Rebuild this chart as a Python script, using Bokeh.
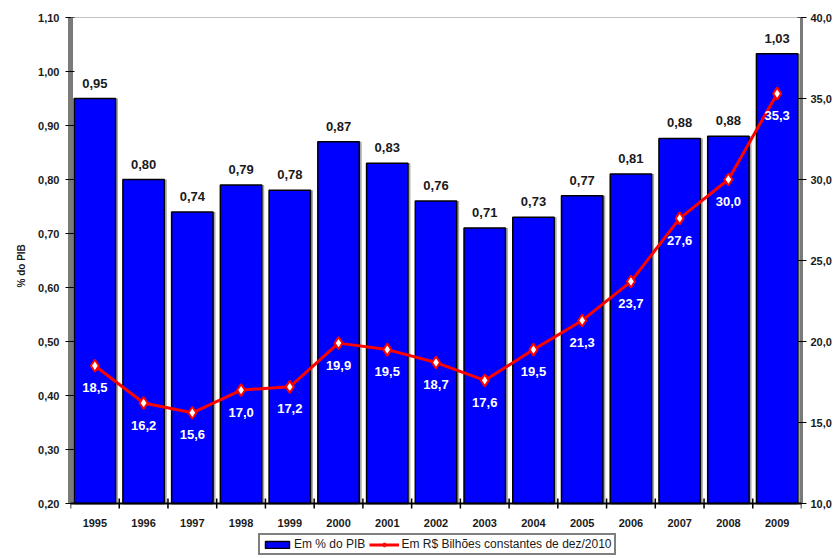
import math
from bokeh.plotting import figure
from bokeh.models import (Range1d, LinearAxis, FixedTicker, CustomJSTickFormatter,
                          ColumnDataSource, Legend, LegendItem, FactorRange, Span, Title)
from bokeh.transform import dodge
from bokeh.core.properties import value
from bokeh.embed import file_html
from bokeh.resources import INLINE

years = ["1995", "1996", "1997", "1998", "1999", "2000", "2001", "2002",
         "2003", "2004", "2005", "2006", "2007", "2008", "2009"]
pib_pct = [0.95, 0.80, 0.74, 0.79, 0.78, 0.87, 0.83, 0.76, 0.71, 0.73, 0.77, 0.81, 0.876, 0.88, 1.033]
pib_lbl = ["0,95", "0,80", "0,74", "0,79", "0,78", "0,87", "0,83", "0,76",
           "0,71", "0,73", "0,77", "0,81", "0,88", "0,88", "1,03"]
rs_bi = [18.5, 16.2, 15.6, 17.0, 17.2, 19.9, 19.5, 18.7, 17.6, 19.5, 21.3, 23.7, 27.6, 30.0, 35.3]
rs_lbl = ["18,5", "16,2", "15,6", "17,0", "17,2", "19,9", "19,5", "18,7",
          "17,6", "19,5", "21,3", "23,7", "27,6", "30,0", "35,3"]
left_ticks = [0.2, 0.3, 0.4, 0.5, 0.6, 0.7, 0.8, 0.9, 1.0, 1.1]
right_ticks = [10, 15, 20, 25, 30, 35, 40]
left_min, left_max = 0.2, 1.1
right_min, right_max = 10, 40

FONT = "Liberation Sans"

# layout (pixels): frame spans from the top of the axes down to the bottom of the page,
# leaving room under the value axis for the category labels and the legend
W, H = 840, 556
TOP, LEFT, RIGHT = 17, 70, 39
AXIS_PX = 486            # pixel height of the value axes
EXTRA_PX = H - TOP - AXIS_PX
y_lo = left_min - EXTRA_PX * (left_max - left_min) / AXIS_PX
r_lo = right_min - EXTRA_PX * (right_max - right_min) / AXIS_PX

src = ColumnDataSource(dict(year=years, pib=pib_pct, pib_lbl=pib_lbl, rs=rs_bi, rs_lbl=rs_lbl))

p = figure(width=W, height=H, x_range=FactorRange(*years), y_range=Range1d(y_lo, left_max),
           output_backend="svg", toolbar_location=None, x_axis_location=None,
           min_border_left=LEFT, min_border_right=RIGHT, min_border_top=TOP, min_border_bottom=0)
p.extra_y_ranges = {"rs": Range1d(r_lo, right_max)}
p.xgrid.visible = False
p.ygrid.visible = False
p.outline_line_color = None
p.background_fill_color = "white"

# top border of the plot area
p.add_layout(Span(location=left_max, dimension="width", line_color="#888888", line_width=1))

# bar shadows
p.vbar(x=dodge("year", 0.05, range=p.x_range), top="pib", bottom=left_min, width=0.85,
       source=src, fill_color="#a8a8a8", line_color=None)
bars = p.vbar(x="year", top="pib", bottom=left_min, width=0.85, source=src,
              fill_color="#0000FF", line_color="black", line_width=1.5)

# category axis line and ticks at category boundaries
p.add_layout(Span(location=left_min, dimension="width", line_color="black", line_width=2))
bounds_x = [(y, -0.5) for y in years] + [(years[-1], 0.5)]
p.scatter(x=bounds_x, y=[left_min] * len(bounds_x), marker="dash", angle=math.pi / 2, size=10,
          line_color="black", line_width=1.5)

line = p.line(x="year", y="rs", source=src, y_range_name="rs", line_color="#FF0000", line_width=3)
pts = p.scatter(x="year", y="rs", source=src, y_range_name="rs", marker="diamond", size=12,
                fill_color="white", line_color="#FF0000", line_width=2)

p.text(x="year", y="pib", text="pib_lbl", source=src, text_align="center", text_baseline="bottom",
       y_offset=-11, text_font=value(FONT), text_font_style="bold", text_font_size="13px",
       text_color="#1a1a1a")
p.text(x="year", y="rs", text="rs_lbl", source=src, y_range_name="rs", text_align="center",
       text_baseline="middle", y_offset=22, text_font=value(FONT), text_font_style="bold",
       text_font_size="13px", text_color="white")

# category labels
p.text(x=years, y=[left_min] * len(years), text=years, text_align="center", text_baseline="middle",
       y_offset=19, text_font=value(FONT), text_font_style="bold", text_font_size="11px",
       text_color="#1a1a1a")

fmt2 = CustomJSTickFormatter(code="return tick.toFixed(2).replace('.', ',');")
fmt1 = CustomJSTickFormatter(code="return tick.toFixed(1).replace('.', ',');")

ya = p.yaxis[0]
ya.ticker = FixedTicker(ticks=left_ticks)
ya.formatter = fmt2
ya.bounds = (left_min, left_max)
ya.axis_line_color = "#7a7a7a"
ya.axis_line_width = 5
ya.major_tick_in = 4
ya.major_tick_out = 5
ya.major_tick_line_color = "black"
ya.minor_tick_line_color = None
ya.major_label_text_font = FONT
ya.major_label_text_font_style = "bold"
ya.major_label_text_font_size = "11px"
ya.major_label_text_color = "#1a1a1a"
ya.major_label_standoff = 6

p.add_layout(Title(text="% do PIB", align="left", offset=269, text_font=FONT,
                   text_font_style="bold", text_font_size="10px", text_color="#1a1a1a",
                   standoff=18), "left")

ra = LinearAxis(y_range_name="rs", ticker=FixedTicker(ticks=right_ticks), formatter=fmt1,
                bounds=(right_min, right_max))
ra.axis_line_color = "#7a7a7a"
ra.axis_line_width = 3
ra.major_tick_in = 4
ra.major_tick_out = 5
ra.major_tick_line_color = "black"
ra.minor_tick_line_color = None
ra.major_label_text_font = FONT
ra.major_label_text_font_style = "bold"
ra.major_label_text_font_size = "11px"
ra.major_label_text_color = "#1a1a1a"
ra.major_label_standoff = 4
p.add_layout(ra, "right")

legend = Legend(items=[LegendItem(label="Em % do PIB", renderers=[bars]),
                       LegendItem(label="Em R$ Bilhões constantes de dez/2010", renderers=[line, pts])],
                orientation="horizontal", location=(188, 1),
                label_text_font=FONT, label_text_font_size="12px", label_text_color="#1a1a1a",
                glyph_width=30, glyph_height=9, label_standoff=2, spacing=4,
                padding=2, margin=0, border_line_color="black", border_line_width=2,
                label_height=12, background_fill_color="white")
p.add_layout(legend)

open("out.html", "w").write(file_html(p, INLINE))
